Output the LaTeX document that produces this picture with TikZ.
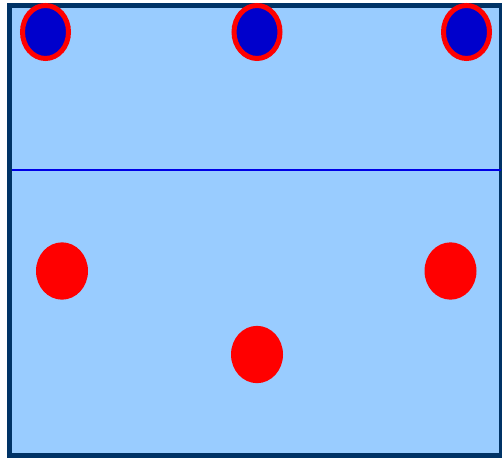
\documentclass[tikz,border=0pt]{standalone}
\usepackage{tikz}
\usetikzlibrary{shapes.geometric}
\definecolor{pool}{RGB}{153,204,255}
\definecolor{rim}{RGB}{0,51,102}
\definecolor{lane}{RGB}{0,0,230}
\definecolor{capblue}{RGB}{0,0,204}
\tikzset{
  capped/.style = {ellipse, draw = red, fill = capblue, line width = 3.75pt,
                   inner sep = 0pt, minimum width = 34.5pt, minimum height = 39.75pt},
  player/.style = {ellipse, fill = red, inner sep = 0pt,
                   minimum width = 39pt, minimum height = 43pt}
}
\begin{document}
\begin{tikzpicture}[x = 0.75pt, y = -0.75pt]
            \useasboundingbox (0,0) rectangle (502,459);
            \draw[rim, fill = pool, line width = 3.75pt] (9.5,5.5) rectangle (501,455.5);
            \coordinate (lineL) at (11.5,170);
            \coordinate (lineR) at (501,170);
            \draw[lane, line width = 1.5pt] (lineL) -- (lineR);
            \node[capped] (capL) at (45.5,32) {};
            \node[capped] (capM) at (257,32) {};
            \node[capped] (capR) at (466.5,32) {};
            \node[player] (redL) at (62,271) {};
            \node[player] (redR) at (450.5,271) {};
            \node[player] (redM) at (257,354.5) {};
        \end{tikzpicture}
\end{document}
